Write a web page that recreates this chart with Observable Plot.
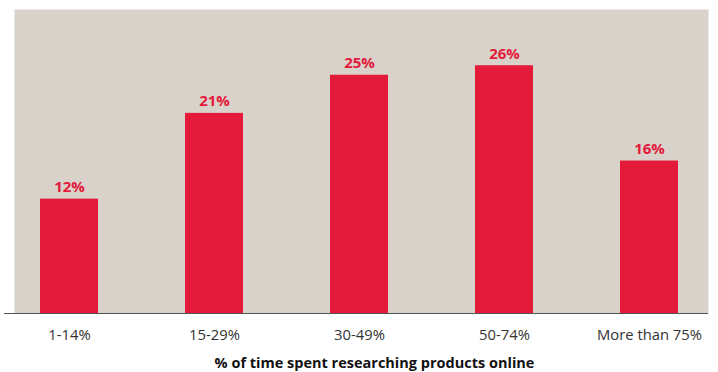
<!DOCTYPE html>
<html>
<head>
<meta charset="utf-8">
<script src="https://cdn.jsdelivr.net/npm/d3@7"></script>
<script src="https://cdn.jsdelivr.net/npm/@observablehq/plot@0.6"></script>
<style>
  html, body { margin: 0; padding: 0; background: #fff; }
  #chart svg { display: block; }
</style>
</head>
<body>
<div id="chart"></div>
<script>
const categories = ["1-14%", "15-29%", "30-49%", "50-74%", "More than 75%"];
const shares = [12, 21, 25, 26, 16];
const valueLabels = ["12%", "21%", "25%", "26%", "16%"];
const axisTitle = "% of time spent researching products online";

const data = categories.map((c, i) => ({cat: c, v: shares[i], lab: valueLabels[i]}));

const red = "#e31a3a";
const chart = Plot.plot({
  width: 718,
  height: 372,
  marginLeft: 4,
  marginRight: 10,
  marginTop: 9,
  marginBottom: 59,
  style: {fontFamily: "'Open Sans', sans-serif", background: "#fff"},
  x: {domain: categories, range: [39, 679], paddingInner: 0.6, paddingOuter: 0, align: 0.5},
  y: {domain: [0, 31.9], axis: null},
  marks: [
    Plot.frame({fill: "#d8d2cb", stroke: null, insetLeft: 10}),
    Plot.barY(data, {x: "cat", y: "v", fill: red}),
    Plot.ruleY([0], {stroke: "#555", strokeWidth: 1.2}),
    Plot.text(data, {x: "cat", y: "v", text: "lab", dy: -12, fill: red, fontWeight: "bold", fontSize: 15}),
    Plot.axisX({tickSize: 0, tickPadding: 16, fontSize: 14.8, color: "#333", label: null}),
    Plot.text([axisTitle], {frameAnchor: "bottom", lineAnchor: "middle", dy: 50, dx: 18, fontWeight: "bold", fontSize: 14.5, fill: "#111"})
  ]
});
document.getElementById("chart").appendChild(chart);
</script>
</body>
</html>
